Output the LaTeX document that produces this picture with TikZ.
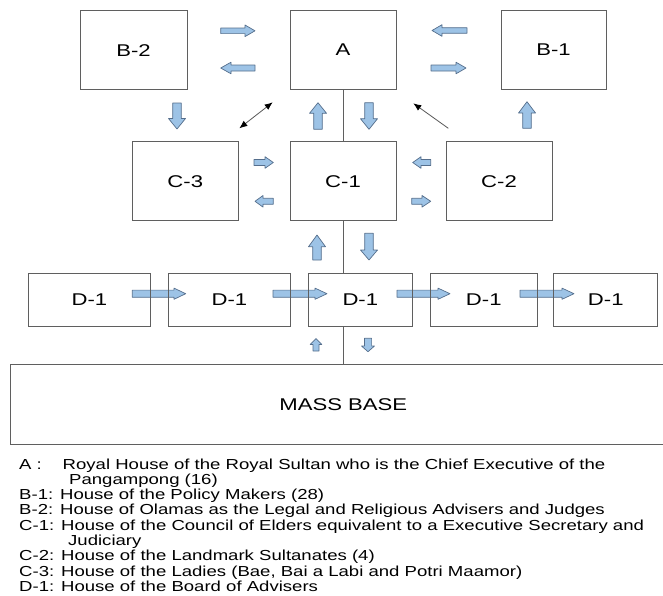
\documentclass[tikz,border=0pt]{standalone}
\usepackage{fontspec}
\setmainfont{Liberation Sans}
\newfontfamily\lgfont[FakeStretch=1.28]{Liberation Sans}
\newfontfamily\bxfont[FakeStretch=1.3]{Liberation Sans}
\usetikzlibrary{arrows.meta}
\definecolor{boxline}{RGB}{95,95,95}
\definecolor{arrfill}{RGB}{157,195,230}
\definecolor{arrline}{RGB}{85,110,140}
\tikzset{
  bx/.style={draw=boxline, line width=0.9pt, inner sep=0pt, outer sep=0pt, font=\bxfont\fontsize{17}{19}\selectfont},
  blk/.style={draw=arrline, fill=arrfill, line width=0.7pt, line join=round},
  thinarr/.style={draw=gray!70!black, line width=0.8pt},
  vline/.style={draw=boxline, line width=0.9pt},
  lg/.style={anchor=base west, inner sep=0pt, font=\lgfont\fontsize{14.5}{15.5}\selectfont},
}
\newcommand\mkbox[6]{\node[bx, minimum width={#3-#2}, minimum height={#5-#4}] (#1) at ({(#2+#3)/2},{(#4+#5)/2}) {#6};}
\newcommand\harr[6]{\draw[blk] (#1,{#4-#5}) -- (#2,{#4-#5}) -- (#2,{#4-#6}) -- (#3,#4) -- (#2,{#4+#6}) -- (#2,{#4+#5}) -- (#1,{#4+#5}) -- cycle;}
\newcommand\varr[6]{\draw[blk] ({#4-#5},#1) -- ({#4-#5},#2) -- ({#4-#6},#2) -- (#4,#3) -- ({#4+#6},#2) -- ({#4+#5},#2) -- ({#4+#5},#1) -- cycle;}
\begin{document}
\begin{tikzpicture}[x=1pt,y=-1pt]
\useasboundingbox (0,0) rectangle (663,595);
\clip (0,0) rectangle (663,595);
% row 1
\mkbox{B2}{80}{187}{10.7}{89.5}{B-2}
\mkbox{A}{290}{396}{10.7}{89.5}{A}
\mkbox{B1}{501}{606}{10.7}{89.5}{B-1}
% row 2
\mkbox{C3}{132.6}{238}{141.7}{220.7}{C-3}
\mkbox{C1}{290}{396}{141.7}{220.7}{C-1}
\mkbox{C2}{446}{552}{141.7}{220.7}{C-2}
% row 1 arrows
\harr{220.7}{245}{255}{30.8}{2.8}{5.8}
\harr{255}{231}{220.7}{68}{3}{5.8}
\harr{467}{442}{432}{30.5}{2.8}{5.8}
\harr{431}{456}{466}{68}{3}{5.8}
\varr{103}{118.5}{129}{177}{4.3}{8.5}
\varr{129.3}{113.3}{102.7}{318}{4.3}{8.5}
\varr{102.7}{118.7}{129.3}{369}{4.3}{8.5}
\varr{128.3}{113}{101.7}{527}{4.3}{8.5}
\coordinate (da1) at (239.3,128.3);
\coordinate (da2) at (272.7,102.3);
\draw[thinarr, {Latex[length=8pt,width=6.5pt,color=black]}-{Latex[length=8pt,width=6.5pt,color=black]}] (da1) -- (da2);
\coordinate (sa1) at (448.3,128.3);
\coordinate (sa2) at (413.3,103.3);
\draw[thinarr, -{Latex[length=8pt,width=6.5pt,color=black]}] (sa1) -- (sa2);
% row 2 arrows
\harr{254}{265}{273.3}{162.5}{3}{5.8}
\harr{273.3}{263}{255}{201.3}{3}{5.8}
\harr{430.7}{421}{412.7}{162.5}{3}{5.8}
\harr{411.7}{422}{430.7}{201.3}{3}{5.8}
\varr{260}{246.7}{235}{317}{4.3}{8.5}
\varr{233.3}{250}{260}{369}{4.3}{8.5}
% row 3 arrows (under box borders)
\harr{132.3}{174}{185.7}{293.7}{3.6}{5.6}
\harr{273}{315}{327}{293.7}{3.6}{5.6}
\harr{397}{438}{450}{293.7}{3.6}{5.6}
\harr{520}{562}{574}{293.7}{3.6}{5.6}
% row 3
\mkbox{D1}{28}{150.7}{273.5}{326}{D-1}
\mkbox{D2}{168.3}{290.5}{273.5}{326}{D-1}
\mkbox{D3}{308.3}{412.3}{273.5}{326}{D-1}
\mkbox{D4}{430.5}{537}{273.5}{326}{D-1}
\mkbox{D5}{553.8}{657.7}{273.5}{326}{D-1}
% small arrows to mass base
\varr{351}{344.5}{338.5}{316}{3}{5.8}
\varr{338.3}{346}{351.7}{368}{3.6}{6.5}
% mass base
\mkbox{M}{10.6}{676}{364.3}{444}{MASS BASE}
% vertical connector
\draw[vline] (A.south) -- (C1.north);
\draw[vline] (C1.south) -- (C1.south |- D3.north);
\draw[vline] (D3.south -| C1.south) -- (M.north -| C1.south);
% legend
\node[lg] (l1a) at (19,469) {A :};
\node[lg] (l1b) at (62.5,469) {Royal House of the Royal Sultan who is the Chief Executive of the};
\node[lg] (l2) at (69,484.3) {Pangampong (16)};
\node[lg] (l3) at (19,499.6) {B-1: House of the Policy Makers (28)};
\node[lg] (l4) at (19,514.9) {B-2: House of Olamas as the Legal and Religious Advisers and Judges};
\node[lg] (l5) at (19,530.2) {C-1: House of the Council of Elders equivalent to a Executive Secretary and};
\node[lg] (l6) at (68,545.5) {Judiciary};
\node[lg] (l7) at (19,560.8) {C-2: House of the Landmark Sultanates (4)};
\node[lg] (l8) at (19,576.1) {C-3: House of the Ladies (Bae, Bai a Labi and Potri Maamor)};
\node[lg] (l9) at (19,591.2) {D-1: House of the Board of Advisers};
\end{tikzpicture}
\end{document}
